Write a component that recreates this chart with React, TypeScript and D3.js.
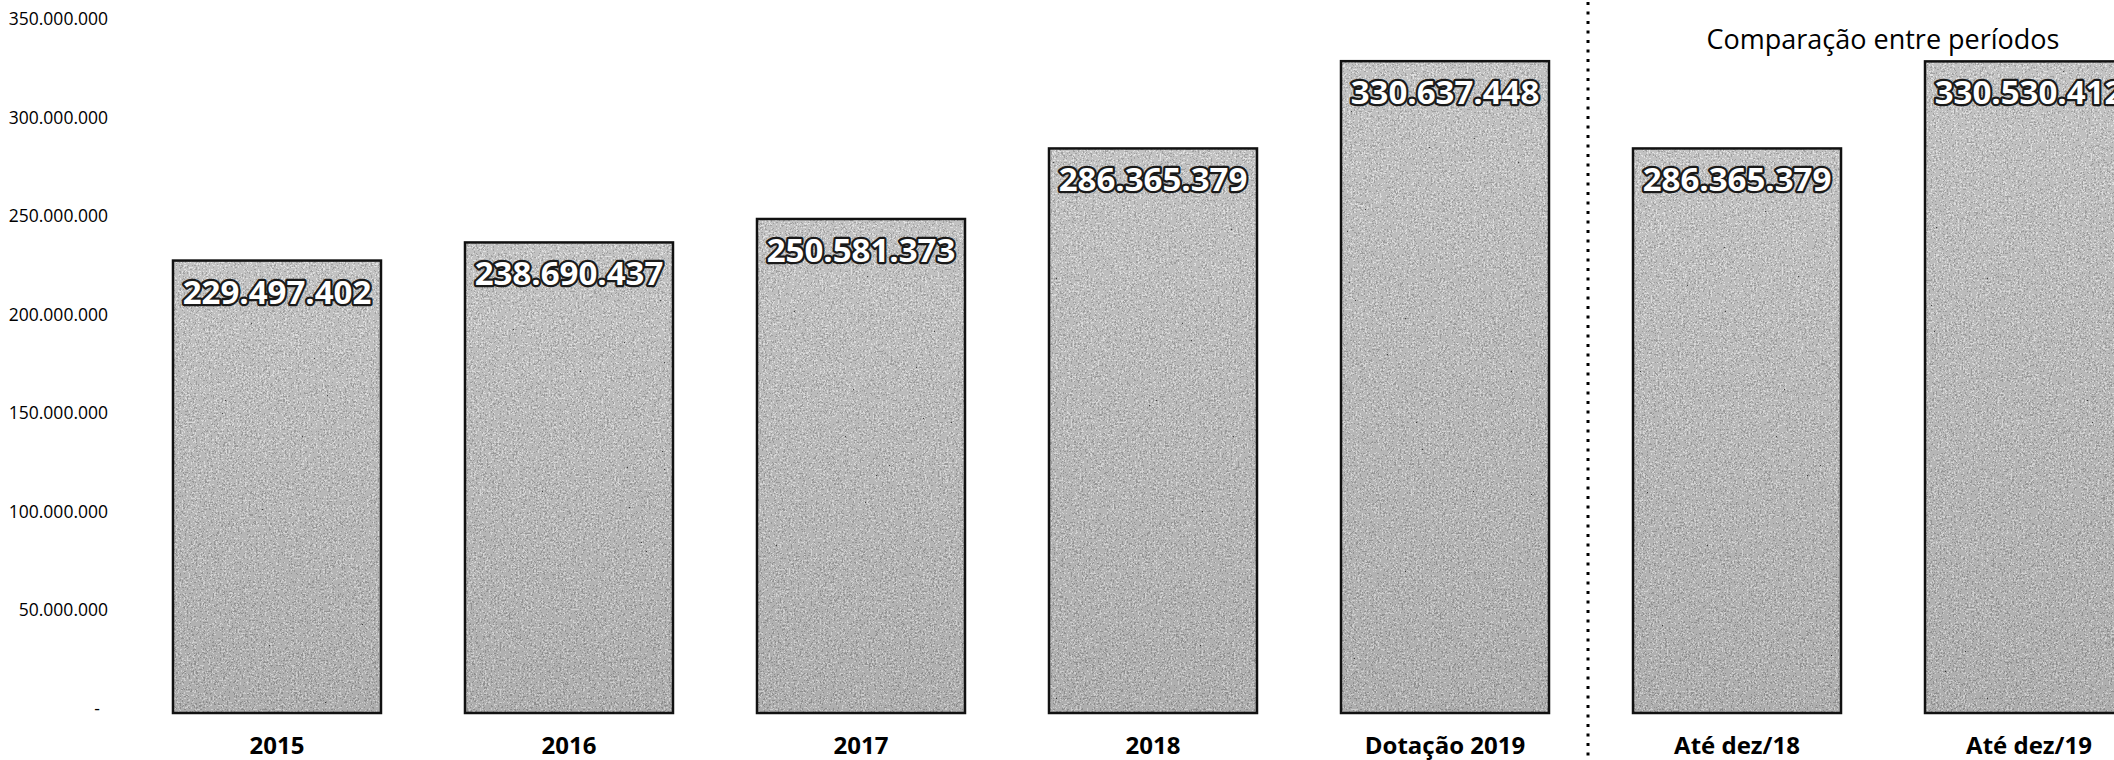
import React from "react";
import * as d3 from "d3";

const categories = ["2015", "2016", "2017", "2018", "Dotação 2019", "Até dez/18", "Até dez/19"];
const values = [229497402, 238690437, 250581373, 286365379, 330637448, 286365379, 330530412];
const valueLabels = ["229.497.402", "238.690.437", "250.581.373", "286.365.379", "330.637.448", "286.365.379", "330.530.412"];
const tickValues = [0, 50000000, 100000000, 150000000, 200000000, 250000000, 300000000, 350000000];
const tickLabels = ["-", "50.000.000", "100.000.000", "150.000.000", "200.000.000", "250.000.000", "300.000.000", "350.000.000"];
const title = "Comparação entre períodos";

const W = 2114;
const H = 760;

export default function App() {
  const x = d3
    .scaleBand<string>()
    .domain(categories)
    .range([131, 131 + 7 * 292])
    .paddingInner(0.2877)
    .paddingOuter(0.1438);
  const y = d3.scaleLinear().domain([0, 350000000]).range([713, 23]);
  const bw = x.bandwidth();
  const divX = (x(categories[4])! + bw + x(categories[5])!) / 2 - 3;
  const font = "'Open Sans', sans-serif";

  return (
    <svg
      width={W}
      height={H}
      style={{ position: "absolute", left: 0, top: 0, background: "#fff" }}
    >
      <defs>
        <linearGradient id="barGrad" x1="0" y1="0" x2="0" y2="1">
          <stop offset="0" stopColor="#b4b4b4" />
          <stop offset="0.5" stopColor="#9a9a9a" />
          <stop offset="1" stopColor="#808080" />
        </linearGradient>
        <filter id="noise" x="0" y="0" width="100%" height="100%">
          <feTurbulence type="fractalNoise" baseFrequency="0.55" numOctaves="3" seed="7" result="t" />
          <feColorMatrix in="t" type="saturate" values="0" result="g" />
          <feComponentTransfer in="g" result="d">
            <feFuncR type="discrete" tableValues="0 0.3 0.6 1 1" />
            <feFuncG type="discrete" tableValues="0 0.3 0.6 1 1" />
            <feFuncB type="discrete" tableValues="0 0.3 0.6 1 1" />
            <feFuncA type="linear" slope="0" intercept="0.6" />
          </feComponentTransfer>
          <feComposite in="d" in2="SourceGraphic" operator="in" />
        </filter>
      </defs>

      {tickValues.map((t, i) => (
        <text
          key={"t" + i}
          x={i === 0 ? 100 : 108}
          y={y(t) + 2}
          textAnchor="end"
          fontFamily={font}
          fontSize={17.5}
          fill="#000"
        >
          {tickLabels[i]}
        </text>
      ))}

      {categories.map((c, i) => {
        const bx = x(c)!;
        const by = y(values[i]);
        const bh = y(0) - by;
        return (
          <g key={c}>
            <rect x={bx} y={by} width={bw} height={bh} fill="url(#barGrad)" />
            <rect x={bx} y={by} width={bw} height={bh} fill="#fff" filter="url(#noise)" />
            <rect x={bx} y={by} width={bw} height={bh} fill="none" stroke="#111" strokeWidth={2.5} />
            <text
              x={bx + bw / 2}
              y={by + 43}
              textAnchor="middle"
              fontFamily={font}
              fontWeight={700}
              fontSize={33}
              fill="#fff"
              stroke="#1a1a1a"
              strokeWidth={4.5}
              strokeLinejoin="round"
              paintOrder="stroke"
            >
              {valueLabels[i]}
            </text>
            <text
              x={bx + bw / 2}
              y={754}
              textAnchor="middle"
              fontFamily={font}
              fontWeight={700}
              fontSize={24}
              fill="#000"
            >
              {c}
            </text>
          </g>
        );
      })}

      <line
        x1={divX}
        x2={divX}
        y1={2}
        y2={H}
        stroke="#000"
        strokeWidth={3}
        strokeDasharray="3 6.5"
      />

      <text
        x={(x(categories[5])! + x(categories[6])! + bw) / 2 + 0}
        y={49}
        textAnchor="middle"
        fontFamily={font}
        fontSize={27}
        fill="#000"
      >
        {title}
      </text>
    </svg>
  );
}
